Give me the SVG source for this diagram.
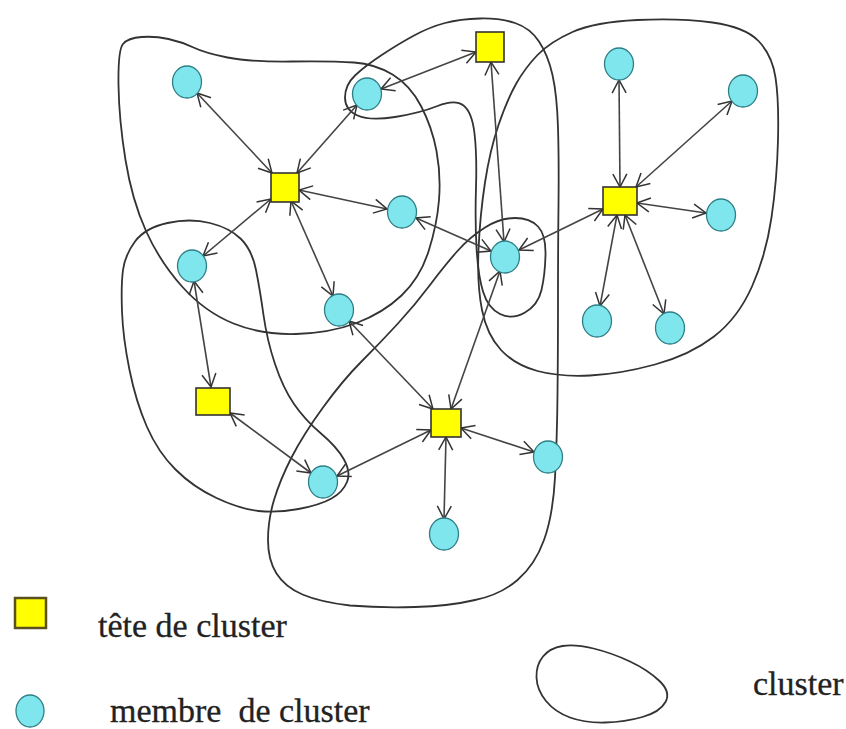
<svg xmlns="http://www.w3.org/2000/svg" width="846" height="729" viewBox="0 0 846 729">
<style>
.cl{fill:none;stroke:#333;stroke-width:1.8;stroke-linejoin:round}
.ed{stroke:#444;stroke-width:1.6;fill:none;marker-start:url(#ah);marker-end:url(#ah)}
.hd{fill:#ffff00;stroke:#333;stroke-width:1.6}
.mb{fill:#7fe6ee;stroke:#2f7f86;stroke-width:1.3}
.lt{font-family:"Liberation Serif","Times New Roman",serif;font-size:34px;fill:#222;stroke:#222;stroke-width:0.3}
</style>
<defs>
<marker id="ah" viewBox="0 0 15 16" refX="14" refY="8" markerWidth="15" markerHeight="16" markerUnits="userSpaceOnUse" orient="auto-start-reverse">
<path d="M1,1 L14,8 L1,15" fill="none" stroke="#333" stroke-width="1.5"/>
</marker>
</defs>
<rect width="846" height="729" fill="#fff"/>
<g id="clusters">
<path id="clusterA" class="cl" d="M118.5,85 Q118,50 123,44 Q128,38 141.5,37 Q155,36 168.5,39 Q182,42 193.5,47.5 Q205,53 227.5,57.5 Q250,62 291.5,61.5 Q333,61 354,62.5 Q375,64 392.5,74.5 Q410,85 421,106 Q432,127 436.5,151 Q441,175 439,200 Q437,225 428.5,251.5 Q420,278 401.5,295.5 Q383,313 356.5,323 Q330,333 296,334 Q262,335 233.5,323.5 Q205,312 182.5,287 Q160,262 146,231 Q132,200 125.5,160 Q119,120 118.5,85 Z"/>
<path id="clusterB" class="cl" d="M445,23 Q460,19 480,18.5 Q500,18 515,23 Q530,28 539,41.5 Q548,55 552.5,75 Q557,95 558,127.5 Q559,160 558.5,205 Q558,250 558,300 Q558,350 557.5,395 Q557,440 555,477.5 Q553,515 544,540 Q535,565 517.5,580 Q500,595 475,600 Q450,606 415,607 Q380,608 350,605.5 Q320,602 302.5,594.5 Q285,587 276.5,573.5 Q268,560 268,540 Q268,520 274,500 Q280,480 291.5,457.5 Q303,435 323,407.5 Q343,380 361.5,361.5 Q380,343 397.5,324 Q415,305 430,285 Q445,265 457.5,251 Q470,237 485,227.5 Q500,218 515,218 Q530,218 538,226.5 Q546,235 545.5,255 Q545,275 541.5,290 Q538,305 525,312.5 Q512,320 500,314 Q488,308 483,291.5 Q478,275 476.5,247.5 Q475,220 476,187.5 Q477,155 474.5,133.5 Q472,112 463.5,105.5 Q455,99 437.5,106 Q420,113 395,117 Q370,121 357.5,115.5 Q345,110 345,97.5 Q345,85 355,75.5 Q365,66 382.5,54.5 Q400,43 415,35 Q430,27 445,23 Z"/>
<path id="clusterC" class="cl" d="M537.5,55 Q550,42 572.5,32 Q595,22 637.5,20 Q680,18 712.5,22.5 Q745,27 758.5,41 Q772,55 775.5,77.5 Q779,100 778,140 Q777,180 771.5,217.5 Q766,255 752,286.5 Q738,318 714,336.5 Q690,355 655,364.5 Q620,374 590,375.5 Q560,377 537.5,371 Q515,365 501,350 Q487,335 482,310 Q477,285 478.5,250 Q480,215 485,182.5 Q490,150 498.5,125 Q507,100 516,84 Q525,68 537.5,55 Z"/>
<path id="clusterD" class="cl" d="M123,270 Q125,255 135,241.5 Q145,228 167.5,223 Q190,218 210,223 Q230,228 241,239 Q252,250 256,270 Q260,290 263.5,315 Q267,340 275,364 Q283,388 294,404 Q305,420 321,433.5 Q337,447 344,459.5 Q351,472 347,482 Q343,492 331.5,498.5 Q320,505 298.5,509 Q277,513 258.5,511 Q240,509 216.5,498 Q193,487 175.5,469.5 Q158,452 147,427 Q136,402 129.5,370 Q123,338 122,311.5 Q121,285 123,270 Z"/>
</g>
<g id="connectors">
<line class="ed" x1="272" y1="173" x2="197" y2="93"/>
<line class="ed" x1="297" y1="173" x2="357" y2="105"/>
<line class="ed" x1="299" y1="190" x2="387" y2="209"/>
<line class="ed" x1="271" y1="199" x2="203" y2="256"/>
<line class="ed" x1="291" y1="201" x2="333" y2="296"/>
<line class="ed" x1="476" y1="52" x2="381" y2="89"/>
<line class="ed" x1="491" y1="62" x2="504" y2="242"/>
<line class="ed" x1="620" y1="187" x2="619" y2="80"/>
<line class="ed" x1="636" y1="187" x2="732" y2="101"/>
<line class="ed" x1="637" y1="203" x2="706" y2="213"/>
<line class="ed" x1="617" y1="215" x2="600" y2="306"/>
<line class="ed" x1="625" y1="215" x2="664" y2="314"/>
<line class="ed" x1="603" y1="209" x2="519" y2="250"/>
<line class="ed" x1="416" y1="218" x2="491" y2="251"/>
<line class="ed" x1="194" y1="281" x2="211" y2="387"/>
<line class="ed" x1="230" y1="413" x2="311" y2="473"/>
<line class="ed" x1="337" y1="476" x2="431" y2="430"/>
<line class="ed" x1="433" y1="409" x2="349" y2="321"/>
<line class="ed" x1="451" y1="409" x2="500" y2="271"/>
<line class="ed" x1="461" y1="428" x2="534" y2="452"/>
<line class="ed" x1="446" y1="437" x2="444" y2="519"/>
</g>
<g id="H1"><rect class="hd" x="271" y="173" width="28" height="29"/></g>
<g id="H2"><rect class="hd" x="476" y="32" width="28" height="30"/></g>
<g id="H3"><rect class="hd" x="603" y="187" width="34" height="28"/></g>
<g id="H4"><rect class="hd" x="196" y="388" width="34" height="27"/></g>
<g id="H5"><rect class="hd" x="431" y="409" width="30" height="28"/></g>
<g id="M1"><ellipse class="mb" cx="187" cy="82" rx="14.5" ry="16"/></g>
<g id="M2"><ellipse class="mb" cx="367" cy="94" rx="14.5" ry="16"/></g>
<g id="M3"><ellipse class="mb" cx="402" cy="212" rx="14.5" ry="16"/></g>
<g id="M4"><ellipse class="mb" cx="192" cy="266" rx="14.5" ry="16"/></g>
<g id="M5"><ellipse class="mb" cx="339" cy="310" rx="14.5" ry="16"/></g>
<g id="M6"><ellipse class="mb" cx="505" cy="257" rx="14.5" ry="16"/></g>
<g id="M7"><ellipse class="mb" cx="619" cy="64" rx="14.5" ry="16"/></g>
<g id="M8"><ellipse class="mb" cx="743" cy="91" rx="14.5" ry="16"/></g>
<g id="M9"><ellipse class="mb" cx="721" cy="215" rx="14.5" ry="16"/></g>
<g id="M10"><ellipse class="mb" cx="597" cy="321" rx="14.5" ry="16"/></g>
<g id="M11"><ellipse class="mb" cx="670" cy="328" rx="14.5" ry="16"/></g>
<g id="M12"><ellipse class="mb" cx="323" cy="482" rx="14.5" ry="16"/></g>
<g id="M13"><ellipse class="mb" cx="548" cy="457" rx="14.5" ry="16"/></g>
<g id="M14"><ellipse class="mb" cx="444" cy="534" rx="14.5" ry="16"/></g>
<g id="legend">
<rect x="15" y="598" width="31" height="30" fill="#ffff00" stroke="#5a5020" stroke-width="2.5"/>
<text class="lt" x="98" y="637">tête de cluster</text>
<ellipse cx="30" cy="711" rx="14" ry="16" class="mb"/>
<text class="lt" x="110" y="722" xml:space="preserve">membre  de cluster</text>
<path class="cl" d="M543,656.5 Q550,648 562.5,646 Q575,644 593.5,648.5 Q612,653 630,661.5 Q648,670 659.5,681 Q671,692 665.5,702 Q660,712 642.5,717 Q625,722 605,722.5 Q585,723 570,717.5 Q555,712 546,701 Q537,690 536.5,677.5 Q536,665 543,656.5 Z"/>
<text class="lt" x="753" y="695">cluster</text>
</g>
</svg>
